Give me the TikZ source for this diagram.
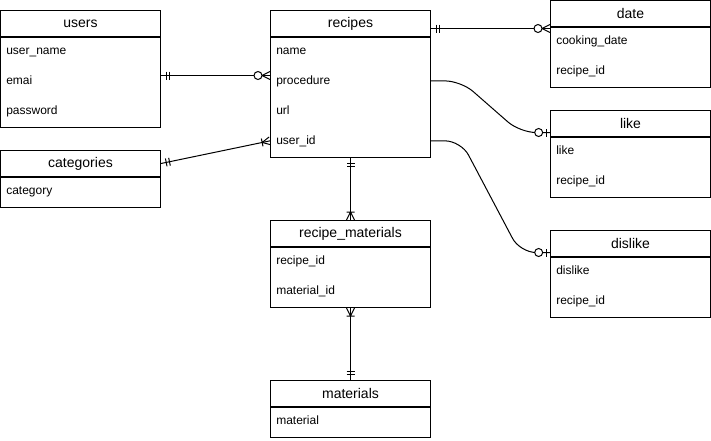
\documentclass[tikz,border=0pt]{standalone}
\usepackage{fontspec}
\setmainfont{Liberation Sans}
\usetikzlibrary{positioning}

% crow's foot ends
\pgfdeclarearrow{
  name=erone,
  setup code={\pgfarrowssettipend{0pt}\pgfarrowssetlineend{0pt}\pgfarrowssetbackend{-8pt}},
  drawing code={
    \pgfpathmoveto{\pgfqpoint{-4pt}{-3pt}}\pgfpathlineto{\pgfqpoint{-4pt}{3pt}}
    \pgfpathmoveto{\pgfqpoint{-6.5pt}{-3pt}}\pgfpathlineto{\pgfqpoint{-6.5pt}{3pt}}
    \pgfusepathqstroke}
}
\pgfdeclarearrow{
  name=eronemany,
  setup code={\pgfarrowssettipend{0pt}\pgfarrowssetlineend{0pt}\pgfarrowssetbackend{-7pt}},
  drawing code={
    \pgfpathmoveto{\pgfqpoint{0pt}{3pt}}\pgfpathlineto{\pgfqpoint{-6pt}{0pt}}\pgfpathlineto{\pgfqpoint{0pt}{-3pt}}
    \pgfpathmoveto{\pgfqpoint{-6pt}{-3pt}}\pgfpathlineto{\pgfqpoint{-6pt}{3pt}}
    \pgfusepathqstroke}
}
\pgfdeclarearrow{
  name=erzeromany,
  setup code={\pgfarrowssettipend{0pt}\pgfarrowssetlineend{0pt}\pgfarrowssetbackend{-12pt}},
  drawing code={
    \pgfpathmoveto{\pgfqpoint{0pt}{3pt}}\pgfpathlineto{\pgfqpoint{-6pt}{0pt}}\pgfpathlineto{\pgfqpoint{0pt}{-3pt}}
    \pgfusepathqstroke
    \pgfpathcircle{\pgfqpoint{-9pt}{0pt}}{3pt}
    \pgfsetfillcolor{white}\pgfusepathqfillstroke}
}
\pgfdeclarearrow{
  name=erzeroone,
  setup code={\pgfarrowssettipend{0pt}\pgfarrowssetlineend{0pt}\pgfarrowssetbackend{-12pt}},
  drawing code={
    \pgfpathmoveto{\pgfqpoint{-3pt}{-3pt}}\pgfpathlineto{\pgfqpoint{-3pt}{3pt}}
    \pgfusepathqstroke
    \pgfpathcircle{\pgfqpoint{-8.5pt}{0pt}}{3pt}
    \pgfsetfillcolor{white}\pgfusepathqfillstroke}
}

\tikzset{
  enttitle/.style={draw, line width=0.75pt, anchor=north west, minimum width=120pt, minimum height=19.5pt, inner sep=0pt, font=\fontsize{10.5}{12}\selectfont},
  entbody/.style={draw, line width=0.75pt, minimum width=120pt, inner sep=0pt},
  field/.style={anchor=base west, inner sep=0pt, font=\fontsize{9}{11}\selectfont},
  rel/.style={line width=0.75pt},
}

\begin{document}
\begin{tikzpicture}[x=0.75pt,y=-0.75pt]
\useasboundingbox (0,0) rectangle (711,440);

% tables
\node[enttitle] (users) at (0,10) {users};
\node[entbody, below=0pt of users, minimum height=67.5pt] (users-body) {};
\foreach \f [count=\i] in {user\_name,emai,password}
  \node[field] (users-\i) at (6,30*\i+24) {\f};

\node[enttitle] (categories) at (0,150) {categories};
\node[entbody, below=0pt of categories, minimum height=22.5pt] (categories-body) {};
\node[field] (categories-1) at (6,194) {category};

\node[enttitle] (recipes) at (270,10) {recipes};
\node[entbody, below=0pt of recipes, minimum height=90pt] (recipes-body) {};
\foreach \f [count=\i] in {name,procedure,url,user\_id}
  \node[field] (recipes-\i) at (276,30*\i+24) {\f};

\node[enttitle] (recipe-materials) at (270,220) {recipe\_materials};
\node[entbody, below=0pt of recipe-materials, minimum height=45pt] (recipe-materials-body) {};
\foreach \f [count=\i] in {recipe\_id,material\_id}
  \node[field] (recipe-materials-\i) at (276,30*\i+234) {\f};

\node[enttitle] (materials) at (270,380) {materials};
\node[entbody, below=0pt of materials, minimum height=22.5pt] (materials-body) {};
\node[field] (materials-1) at (276,424) {material};

\node[enttitle] (date) at (550,0) {date};
\node[entbody, below=0pt of date, minimum height=45pt] (date-body) {};
\foreach \f [count=\i] in {cooking\_date,recipe\_id}
  \node[field] (date-\i) at (556,30*\i+14) {\f};

\node[enttitle] (like) at (550,110) {like};
\node[entbody, below=0pt of like, minimum height=45pt] (like-body) {};
\foreach \f [count=\i] in {like,recipe\_id}
  \node[field] (like-\i) at (556,30*\i+124) {\f};

\node[enttitle] (dislike) at (550,230) {dislike};
\node[entbody, below=0pt of dislike, minimum height=45pt] (dislike-body) {};
\foreach \f [count=\i] in {dislike,recipe\_id}
  \node[field] (dislike-\i) at (556,30*\i+244) {\f};

% relations
\coordinate (u) at ([yshift=5.25pt]users-body.east);
\coordinate (d) at ([yshift=-3.75pt]recipes.east);
\coordinate (l) at ([yshift=-6.75pt]like.west);
\coordinate (dl) at ([yshift=-6.75pt]dislike.west);

\draw[rel, erone-erzeromany] (u) -- (u -| recipes-body.west);
\draw[rel, erone-eronemany] (categories.east) -- (recipes-4 -| recipes-body.west);
\draw[rel, erone-erzeromany] (d) -- (d -| date-body.west);
\draw[rel, -erzeroone, rounded corners=12pt] (recipes-2 -| recipes-body.east) -- ++(30,0) -- ([xshift=-22.5pt]l) -- (l);
\draw[rel, -erzeroone, rounded corners=12pt] (recipes-4 -| recipes-body.east) -- ++(30,0) -- ([xshift=-22.5pt]dl) -- (dl);
\draw[rel, erone-eronemany] (recipes-body.south) -- (recipe-materials.north);
\draw[rel, eronemany-erone] (recipe-materials-body.south) -- (materials.north);
\end{tikzpicture}
\end{document}
